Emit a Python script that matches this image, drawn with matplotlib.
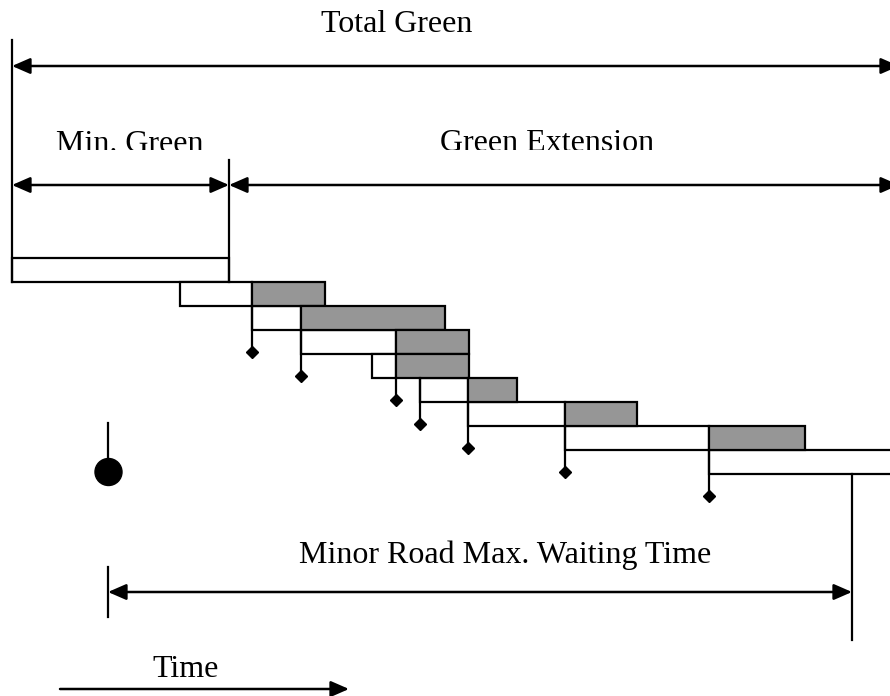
import matplotlib
matplotlib.use("Agg")
import matplotlib.pyplot as plt
from matplotlib.patches import Rectangle, Circle, FancyArrowPatch

# ---- diagram data (time axis in pixel-like units, rows top -> bottom) ----
row_starts = [12, 180, 252, 301, 372, 420, 468, 565, 709]     # call / detection start
ext_starts = [None, 252, 301, 396, 396, 468, 565, 709, None]  # start of extension (grey)
row_ends   = [229, 325, 445, 469, 469, 517, 637, 805, 900]    # end of interval
stem_x     = [None, None, 252, 301, 396, 420, 468, 565, 709]  # detector stems
row_top0 = 258
row_h = 24
stem_len = 22
grey = "#969696"

labels = {"total": "Total Green", "min": "Min. Green", "ext": "Green Extension",
          "wait": "Minor Road Max. Waiting Time", "time": "Time"}

W, H = 890, 696
fig = plt.figure(figsize=(W / 100, H / 100), dpi=100)
ax = fig.add_axes([0, 0, 1, 1])
ax.set_xlim(0, W)
ax.set_ylim(H, 0)
ax.axis("off")
lw = 1.6
font = dict(family="Liberation Serif", fontsize=23, color="black")

def arrow(x0, x1, y, both=True):
    style = "<|-|>" if both else "-|>"
    a = FancyArrowPatch((x0, y), (x1, y), arrowstyle=style + ",head_length=1.1,head_width=0.48",
                        mutation_scale=10, lw=lw + 0.2, color="black", shrinkA=0, shrinkB=0, zorder=5)
    ax.add_patch(a)

# rows
for i, (s, e, end) in enumerate(zip(row_starts, ext_starts, row_ends)):
    top = row_top0 + i * row_h
    if e is None:
        ax.add_patch(Rectangle((s, top), end - s, row_h, fc="white", ec="black", lw=lw, zorder=2))
    else:
        ax.add_patch(Rectangle((s, top), e - s, row_h, fc="white", ec="black", lw=lw, zorder=2))
        ax.add_patch(Rectangle((e, top), end - e, row_h, fc=grey, ec="black", lw=lw, zorder=3))
    sx = stem_x[i]
    if sx is not None:
        bottom = top + row_h
        ax.plot([sx, sx], [top if sx == s else bottom, bottom + stem_len], color="black", lw=lw, zorder=4)
        ax.plot([sx], [bottom + stem_len], marker="D", ms=6.5, color="black", zorder=6)

# top dimension lines
ax.plot([12, 12], [40, row_top0 + row_h], color="black", lw=lw, zorder=4)
ax.plot([229, 229], [160, row_top0 + row_h], color="black", lw=lw, zorder=4)
arrow(12, 899, 66)
arrow(12, 229, 185)
arrow(229, 899, 185)

ax.text(397, 32, labels["total"], ha="center", va="baseline", **font)
t1 = ax.text(130, 152.5, labels["min"], ha="center", va="baseline", **font)
t2 = ax.text(547, 151, labels["ext"], ha="center", va="baseline", **font)
for t, cy in ((t1, 150), (t2, 149.5)):
    t.set_clip_on(True)
    t.set_clip_path(Rectangle((0, 0), W, cy, transform=ax.transData))

# minor road waiting
ax.plot([108, 108], [423, 470], color="black", lw=lw, zorder=4)
ax.add_patch(Circle((108.5, 472), 13.5, color="black", zorder=5))
last_bottom = row_top0 + (len(row_starts)) * row_h
ax.plot([852, 852], [last_bottom, 640], color="black", lw=lw, zorder=4)
ax.plot([108, 108], [567, 617], color="black", lw=lw, zorder=4)
arrow(108, 852, 592)
ax.text(505, 563, labels["wait"], ha="center", va="baseline", **font)

# time arrow
arrow(60, 349, 689, both=False)
ax.text(186, 677, labels["time"], ha="center", va="baseline", **font)

fig.savefig("out.png", dpi=100)
